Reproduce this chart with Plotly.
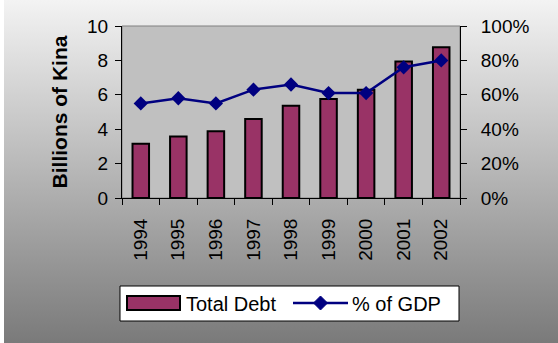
import base64
import plotly.graph_objects as go

# Papua New Guinea public debt, 1994-2002
years = ["1994", "1995", "1996", "1997", "1998", "1999", "2000", "2001", "2002"]
total_debt = [3.15, 3.57, 3.88, 4.60, 5.37, 5.76, 6.30, 7.94, 8.77]   # billions of kina
pct_gdp = [0.55, 0.58, 0.55, 0.63, 0.66, 0.61, 0.61, 0.76, 0.80]      # share of GDP

W, H = 558, 343
L, R, T, B = 122, 98, 26, 145
PW, PH = W - L - R, H - T - B

FONT = "Liberation Sans, Arial, sans-serif"
BAR_COLOR = "#993366"
LINE_COLOR = "#000080"


def px(x):
    return (x - L) / PW


def py(y):
    return (H - B - y) / PH


fig = go.Figure()

fig.add_trace(go.Bar(
    x=years, y=total_debt, name="Total Debt",
    marker=dict(color=BAR_COLOR, line=dict(color="black", width=2)),
    width=0.44, yaxis="y",
))
fig.add_trace(go.Scatter(
    x=years, y=pct_gdp, name="% of GDP", mode="lines+markers",
    line=dict(color=LINE_COLOR, width=2.5),
    marker=dict(symbol="diamond", size=11, color=LINE_COLOR),
    yaxis="y2", cliponaxis=False,
))

# grey gradient page background with a thin white strip on the left
svg = (
    f"<svg xmlns='http://www.w3.org/2000/svg' width='{W}' height='{H}'>"
    "<defs><linearGradient id='g' x1='0' y1='0' x2='0' y2='1'>"
    "<stop offset='0' stop-color='#f3f3f3'/><stop offset='1' stop-color='#7a7a7a'/>"
    "</linearGradient></defs>"
    f"<rect width='{W}' height='{H}' fill='url(#g)'/>"
    f"<rect width='4' height='{H}' fill='#ffffff'/></svg>"
)
src = "data:image/svg+xml;base64," + base64.b64encode(svg.encode()).decode()
fig.add_layout_image(dict(
    source=src, xref="paper", yref="paper", x=px(0), y=py(0),
    sizex=W / PW, sizey=H / PH, xanchor="left", yanchor="top",
    sizing="stretch", layer="below",
))

shapes = [
    # plot area
    dict(type="rect", xref="paper", yref="paper", x0=0, x1=1, y0=0, y1=1,
         fillcolor="#c0c0c0", line=dict(color="#808080", width=1), layer="below"),
    # legend box
    dict(type="rect", xref="paper", yref="paper", x0=px(120), x1=px(459),
         y0=py(321), y1=py(286), fillcolor="white",
         line=dict(color="black", width=1), layer="above"),
    # legend swatch for bars
    dict(type="rect", xref="paper", yref="paper", x0=px(127), x1=px(180),
         y0=py(310), y1=py(296), fillcolor=BAR_COLOR,
         line=dict(color="black", width=2), layer="above"),
    # legend sample for the line
    dict(type="line", xref="paper", yref="paper", x0=px(293), x1=px(348),
         y0=py(303), y1=py(303), line=dict(color=LINE_COLOR, width=2.5), layer="above"),
]
cx, cy, r = 320.5, 303, 7
diamond = (f"M {px(cx)},{py(cy - r)} L {px(cx + r)},{py(cy)} "
           f"L {px(cx)},{py(cy + r)} L {px(cx - r)},{py(cy)} Z")
shapes.append(dict(type="path", xref="paper", yref="paper", path=diamond,
                   fillcolor=LINE_COLOR, line=dict(color=LINE_COLOR, width=1),
                   layer="above"))

legend_font = dict(family=FONT, size=20, color="black")
annotations = [
    dict(text="Total Debt", xref="paper", yref="paper", x=px(184), y=py(303.5),
         xanchor="left", yanchor="middle", showarrow=False, font=legend_font),
    dict(text="% of GDP", xref="paper", yref="paper", x=px(350), y=py(303.5),
         xanchor="left", yanchor="middle", showarrow=False, font=legend_font),
]

tick_font = dict(family=FONT, size=19, color="black")

fig.update_layout(
    width=W, height=H,
    margin=dict(l=L, r=R, t=T, b=B, pad=0),
    paper_bgcolor="#c0c0c0",
    plot_bgcolor="rgba(0,0,0,0)",
    showlegend=False,
    bargap=0.56,
    shapes=shapes,
    annotations=annotations,
    font=dict(family=FONT, color="black"),
    xaxis=dict(
        type="category", tickson="boundaries", ticks="outside", ticklen=6,
        tickcolor="black", tickwidth=1, tickangle=-90, tickfont=tick_font,
        showline=True, linecolor="black", linewidth=1, showgrid=False,
        ticklabelstandoff=12, range=[-0.5, 8.5],
    ),
    yaxis=dict(
        range=[0, 10], dtick=2, ticks="outside", ticklen=6, tickcolor="black",
        tickfont=tick_font, showline=True, linecolor="black", linewidth=1,
        showgrid=False, zeroline=False, ticklabelstandoff=3,
        title=dict(text="<b>Billions of Kina</b>", standoff=13,
                   font=dict(family=FONT, size=21, color="black")),
    ),
    yaxis2=dict(
        range=[0, 1], dtick=0.2, tickformat=".0%", overlaying="y", side="right",
        ticks="outside", ticklen=6, tickcolor="black", tickfont=tick_font,
        showline=True, linecolor="black", linewidth=1, showgrid=False,
        zeroline=False, anchor="x", ticklabelstandoff=10,
    ),
    # short inner halves of the crossing tick marks
    xaxis2=dict(
        overlaying="x", anchor="y", range=[-0.5, 8.5], tick0=-0.5, dtick=1,
        ticks="inside", ticklen=4, tickcolor="black", showticklabels=False,
        showgrid=False, zeroline=False, showline=False,
    ),
    yaxis3=dict(
        overlaying="y", side="left", anchor="x", range=[0, 10], dtick=2,
        ticks="inside", ticklen=4, tickcolor="black", showticklabels=False,
        showgrid=False, zeroline=False, showline=False,
    ),
    yaxis4=dict(
        overlaying="y", side="right", anchor="x", range=[0, 10], dtick=2,
        ticks="inside", ticklen=4, tickcolor="black", showticklabels=False,
        showgrid=False, zeroline=False, showline=False,
    ),
)

fig.write_html("out.html")
